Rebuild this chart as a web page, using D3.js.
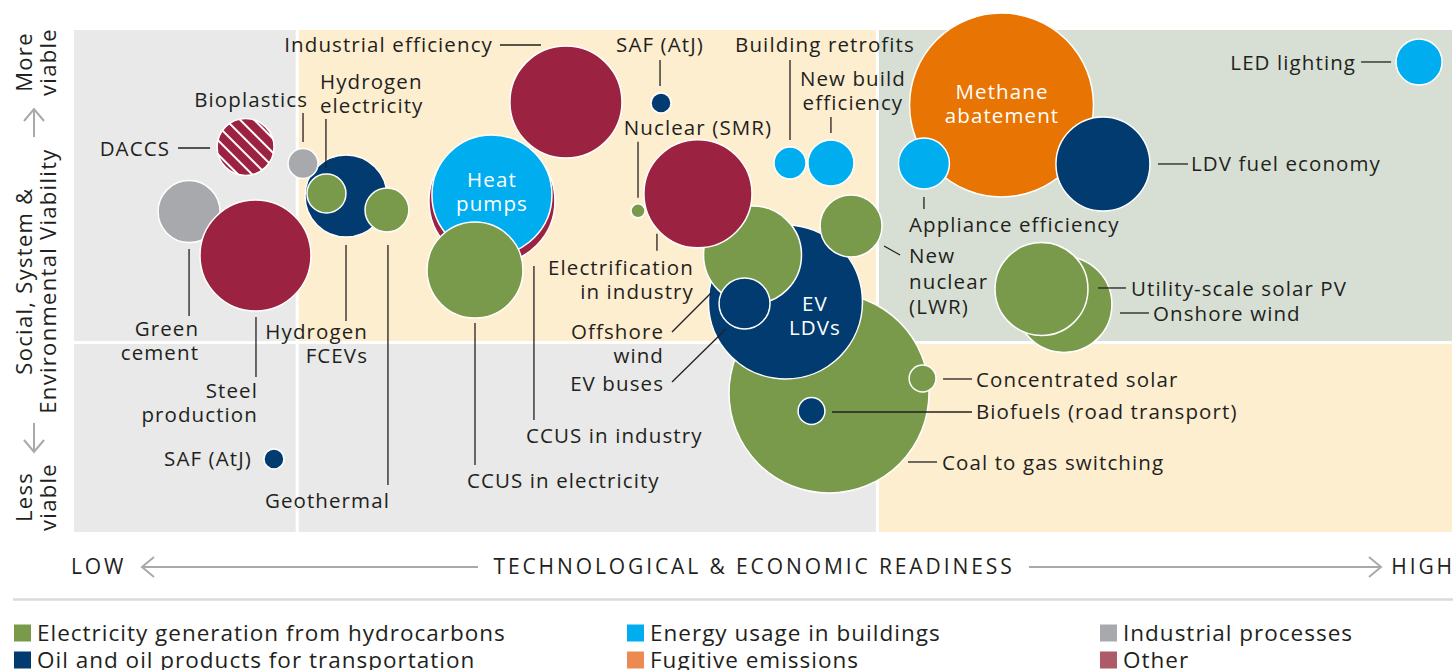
<!DOCTYPE html>
<html>
<head>
<meta charset="utf-8">
<script src="https://cdn.jsdelivr.net/npm/d3@7"></script>
<style>
  body { margin: 0; background: #fff; }
  svg { display: block; }
  text { font-family: "Open Sans", sans-serif; fill: #231f20; }
</style>
</head>
<body>
<svg id="chart" width="1456" height="670"></svg>
<script>
// ---- Options: readiness (x), viability (y), abatement size ----
const ids = [
  "coal", "evldv", "offshore", "newnuclear", "evbuses", "csp", "biofuels",
  "ccusInd", "heat", "ccusElec",
  "cement", "steel", "fcev", "bioplastics", "h2elec", "geo", "daccs", "safLow",
  "indEff", "safTop", "smr", "electrif", "retrofit", "newbuild",
  "methane", "appliance", "ldvfuel", "led", "onshore", "utility"
];
const names = [
  "Coal to gas switching", "EV LDVs", "Offshore wind", "New nuclear (LWR)", "EV buses",
  "Concentrated solar", "Biofuels (road transport)",
  "CCUS in industry", "Heat pumps", "CCUS in electricity",
  "Green cement", "Steel production", "Hydrogen FCEVs", "Bioplastics", "Hydrogen electricity",
  "Geothermal", "DACCS", "SAF (AtJ)",
  "Industrial efficiency", "SAF (AtJ)", "Nuclear (SMR)", "Electrification in industry",
  "Building retrofits", "New build efficiency",
  "Methane abatement", "Appliance efficiency", "LDV fuel economy", "LED lighting",
  "Onshore wind", "Utility-scale solar PV"
];
// 0 electricity, 1 transport, 2 buildings, 3 fugitive, 4 industrial processes, 5 other
const sector = [
  0, 1, 0, 0, 1, 0, 1,
  5, 2, 0,
  4, 5, 1, 4, 0, 0, 5, 1,
  5, 1, 0, 5, 2, 2,
  3, 2, 1, 2, 0, 0
];
const readiness = [
  54.79, 51.63, 49.24, 56.39, 48.66, 61.58, 53.52,
  30.33, 30.33, 29.10,
  8.35, 13.17, 19.74, 16.62, 18.32, 22.71, 12.45, 14.51,
  35.70, 42.60, 40.93, 45.28, 51.96, 54.93,
  67.31, 61.68, 74.67, 97.61, 71.84, 70.21
];
const viability = [
  27.69, 45.82, 55.18, 60.96, 45.52, 30.58, 24.10,
  65.94, 67.13, 52.19,
  63.84, 55.08, 66.93, 73.41, 67.43, 64.14, 76.69, 14.54,
  85.66, 85.46, 63.98, 67.37, 73.51, 73.51,
  85.06, 73.41, 73.31, 93.63, 45.32, 48.41
];
const potential = [
  1000, 593, 240, 96, 65, 18, 18,
  397, 360, 230,
  96, 308, 168, 22.5, 38, 48, 81, 10,
  314, 10, 4.9, 292, 25.6, 53,
  846, 65, 221, 53, 230, 216
];

const sectors = [
  "Electricity generation from hydrocarbons",
  "Oil and oil products for transportation",
  "Energy usage in buildings",
  "Fugitive emissions",
  "Industrial processes",
  "Other"
];
const sectorFill = ["#7a9a4b", "#013b70", "#00aeef", "#e87403", "#a7a9ac", "#9c2242"];
const legendFill = ["#7a9a4b", "#013b70", "#00aeef", "#ec8a52", "#a7a9ac", "#ad5a69"];

// quadrant boundaries in axis units
const readinessBreaks = [0, 16.2, 58.3, 100];
const viabilityBreaks = [0, 37.75, 100];
const panelFill = [
  ["#e8e9e8", "#e8e9e8", "#feeed0"],   // lower band
  ["#e8e9e8", "#feeed0", "#d7dfd4"]    // upper band
];

// ---- layout ----
const svg = d3.select("#chart");
const x = d3.scaleLinear().domain([0, 100]).range([74, 1452]);
const y = d3.scaleLinear().domain([0, 100]).range([532, 30]);
const r = d3.scaleSqrt().domain([0, 1000]).range([0, 100]);

const defs = svg.append("defs");
const hatch = defs.append("pattern")
  .attr("id", "hatch").attr("patternUnits", "userSpaceOnUse")
  .attr("width", 10).attr("height", 10)
  .attr("patternTransform", "rotate(45)");
hatch.append("rect").attr("width", 10).attr("height", 10).attr("fill", sectorFill[5]);
hatch.append("line").attr("x1", 0).attr("x2", 10).attr("y1", 5).attr("y2", 5)
  .attr("stroke", "#fff").attr("stroke-width", 2);

// background panels
const panels = svg.append("g");
for (let j = 0; j < 2; j++) {
  for (let i = 0; i < 3; i++) {
    panels.append("rect")
      .attr("x", x(readinessBreaks[i]))
      .attr("y", y(viabilityBreaks[j + 1]))
      .attr("width", x(readinessBreaks[i + 1]) - x(readinessBreaks[i]))
      .attr("height", y(viabilityBreaks[j]) - y(viabilityBreaks[j + 1]))
      .attr("fill", panelFill[j][i]);
  }
}
panels.selectAll("line.v").data(readinessBreaks.slice(1, -1)).join("line")
  .attr("x1", d => x(d)).attr("x2", d => x(d))
  .attr("y1", y(100)).attr("y2", y(0))
  .attr("stroke", "#fff").attr("stroke-width", 3);
panels.selectAll("line.h").data(viabilityBreaks.slice(1, -1)).join("line")
  .attr("x1", x(0)).attr("x2", x(100))
  .attr("y1", d => y(d)).attr("y2", d => y(d))
  .attr("stroke", "#fff").attr("stroke-width", 3);

// bubbles
const options = ids.map((id, i) => ({
  id, name: names[i], sector: sector[i],
  cx: x(readiness[i]), cy: y(viability[i]), rad: r(potential[i])
}));
const byId = Object.fromEntries(options.map(d => [d.id, d]));

svg.append("g").selectAll("circle").data(options).join("circle")
  .attr("cx", d => d.cx).attr("cy", d => d.cy).attr("r", d => d.rad)
  .attr("fill", d => d.id === "daccs" ? "url(#hatch)" : sectorFill[d.sector])
  .attr("stroke", "#fff").attr("stroke-width", 1.5);

// labels: offsets from bubble centre, leader line offsets
const notes = [
  { id: "daccs", lines: ["DACCS"], anchor: "end", dx: -75.5, dy: 2, leader: [[-67.5, 1], [-35.5, 1]] },
  { id: "bioplastics", lines: ["Bioplastics"], anchor: "end", dx: 5, dy: -63.5, leader: [[0, -50.5], [0, -21.5]] },
  { id: "h2elec", lines: ["Hydrogen", "electricity"], anchor: "start", dx: -6.5, dy: -111.5, leader: [[-0.5, -74.5], [-0.5, -25.5]] },
  { id: "cement", lines: ["Green", "cement"], anchor: "end", dx: 10, dy: 117.5, leader: [[0, 37.5], [0, 104.5]] },
  { id: "steel", lines: ["Steel", "production"], anchor: "end", dx: 2.5, dy: 135.5, leader: [[0.5, 61.5], [0.5, 121.5]] },
  { id: "fcev", lines: ["Hydrogen", "FCEVs"], anchor: "end", dx: 22, dy: 136, leader: [[0, 49], [0, 125]] },
  { id: "geo", lines: ["Geothermal"], anchor: "end", dx: 3, dy: 291, leader: [[1, 35], [1, 275]] },
  { id: "safLow", lines: ["SAF (AtJ)"], anchor: "end", dx: -22, dy: 0 },
  { id: "heat", lines: ["Heat", "pumps"], anchor: "middle", dx: 0, dy: -15, inside: true },
  { id: "ccusInd", lines: ["CCUS in industry"], anchor: "start", dx: 34, dy: 235, leader: [[42, 65], [42, 219]] },
  { id: "ccusElec", lines: ["CCUS in electricity"], anchor: "start", dx: -8, dy: 211, leader: [[0, 53], [0, 195]] },
  { id: "indEff", lines: ["Industrial efficiency"], anchor: "end", dx: -73, dy: -57, leader: [[-66, -57], [-25, -57]] },
  { id: "safTop", lines: ["SAF (AtJ)"], anchor: "middle", dx: -1, dy: -58, leader: [[-1, -43], [-1, -17]] },
  { id: "smr", lines: ["Nuclear (SMR)"], anchor: "middle", dx: 60, dy: -83, leader: [[0, -69], [0, -13]] },
  { id: "electrif", lines: ["Electrification", "in industry"], anchor: "end", dx: -4, dy: 74, leader: [[-41, 40], [-41, 57]] },
  { id: "retrofit", lines: ["Building retrofits"], anchor: "middle", dx: 35, dy: -118, leader: [[0, -103], [0, -23]] },
  { id: "newbuild", lines: ["New build", "efficiency"], anchor: "middle", dx: 22, dy: -84, leader: [[0, -46], [0, -30]] },
  { id: "newnuclear", lines: ["New", "nuclear", "(LWR)"], anchor: "start", dx: 58, dy: 30, lh: 25.5, leader: [[33, 20], [49, 29]] },
  { id: "offshore", lines: ["Offshore", "wind"], anchor: "end", dx: -88.5, dy: 77, leader: [[-80.5, 77], [-41.5, 38]] },
  { id: "evldv", lines: ["EV", "LDVs"], anchor: "middle", dx: 29.5, dy: 2, inside: true },
  { id: "evbuses", lines: ["EV buses"], anchor: "end", dx: -80.5, dy: 80.5, leader: [[-72.5, 78.5], [-18.5, 25.5]] },
  { id: "coal", lines: ["Coal to gas switching"], anchor: "start", dx: 113, dy: 70, leader: [[79, 69], [108, 69]] },
  { id: "csp", lines: ["Concentrated solar"], anchor: "start", dx: 53.5, dy: 1.5, leader: [[20.5, 0.5], [49.5, 0.5]] },
  { id: "biofuels", lines: ["Biofuels (road transport)"], anchor: "start", dx: 164.5, dy: 1, leader: [[20.5, 1], [160.5, 1]] },
  { id: "methane", lines: ["Methane", "abatement"], anchor: "middle", dx: 0.5, dy: -13, inside: true },
  { id: "appliance", lines: ["Appliance efficiency"], anchor: "start", dx: -15, dy: 61.5, leader: [[0, 33.5], [0, 45.5]] },
  { id: "ldvfuel", lines: ["LDV fuel economy"], anchor: "start", dx: 88, dy: 0, leader: [[55, 0], [85, 0]] },
  { id: "led", lines: ["LED lighting"], anchor: "end", dx: -63, dy: 1, leader: [[-58, 0], [-28, 0]] },
  { id: "utility", lines: ["Utility-scale solar PV"], anchor: "start", dx: 89.5, dy: 0, leader: [[56.5, -1], [84.5, -1]] },
  { id: "onshore", lines: ["Onshore wind"], anchor: "start", dx: 89, dy: 9.5, leader: [[56, 8.5], [85, 8.5]] }
];

const noteG = svg.append("g");
notes.forEach(n => {
  const o = byId[n.id];
  if (n.leader) {
    noteG.append("line")
      .attr("x1", o.cx + n.leader[0][0]).attr("y1", o.cy + n.leader[0][1])
      .attr("x2", o.cx + n.leader[1][0]).attr("y2", o.cy + n.leader[1][1])
      .attr("stroke", "#231f20").attr("stroke-width", 1.3);
  }
  const lh = n.lh || 24;
  const t = noteG.append("text")
    .attr("text-anchor", n.anchor)
    .style("font-size", "20.5px")
    .style("letter-spacing", "1.1px")
    .style("fill", n.inside ? "#fff" : "#231f20");
  n.lines.forEach((line, k) => {
    t.append("tspan")
      .attr("x", o.cx + n.dx)
      .attr("y", o.cy + n.dy + k * lh)
      .attr("dy", "0.35em")
      .text(line);
  });
});

// ---- vertical axis caption ----
const yCap = svg.append("g").style("font-size", "22px").style("letter-spacing", "1.3px");
function rotated(cx, cy, lines) {
  const t = yCap.append("text")
    .attr("transform", `translate(${cx},${cy}) rotate(-90)`)
    .attr("text-anchor", "middle");
  lines.forEach((s, k) => {
    t.append("tspan").attr("x", 0).attr("y", (k - (lines.length - 1) / 2) * 24).attr("dy", "0.35em").text(s);
  });
}
rotated(36, 62, ["More", "viable"]);
rotated(36, 281, ["Social, System &", "Environmental Viability"]);
rotated(36, 497, ["Less", "viable"]);

const grey = "#a7a9ac";
function arrow(g, x1, y1, x2, y2) {
  g.append("line").attr("x1", x1).attr("y1", y1).attr("x2", x2).attr("y2", y2)
    .attr("stroke", grey).attr("stroke-width", 2);
  const ang = Math.atan2(y2 - y1, x2 - x1);
  const L = 12, W = 10;
  const p = (a, b) => [x2 - L * Math.cos(ang) + b * Math.cos(ang + Math.PI / 2), y2 - L * Math.sin(ang) + b * Math.sin(ang + Math.PI / 2)];
  const a1 = p(0, W), a2 = p(0, -W);
  g.append("path")
    .attr("d", `M${a1[0]},${a1[1]} L${x2},${y2} L${a2[0]},${a2[1]}`)
    .attr("fill", "none").attr("stroke", grey).attr("stroke-width", 2);
}
const arrows = svg.append("g");
arrow(arrows, 34, 137, 34, 109);
arrow(arrows, 34, 423, 34, 452);

// ---- horizontal axis caption ----
const xCap = svg.append("g").style("font-size", "21px").style("letter-spacing", "2.9px");
xCap.append("text").attr("x", 71).attr("y", 567).attr("dy", "0.35em").text("LOW");
xCap.append("text").attr("x", 754).attr("y", 567).attr("dy", "0.35em").attr("text-anchor", "middle")
  .text("TECHNOLOGICAL & ECONOMIC READINESS");
xCap.append("text").attr("x", 1455).attr("y", 567).attr("dy", "0.35em").attr("text-anchor", "end").text("HIGH");
arrow(arrows, 478, 567, 142, 567);
arrow(arrows, 1029, 567, 1381, 567);

svg.append("line").attr("x1", 13).attr("x2", 1453).attr("y1", 599.5).attr("y2", 599.5)
  .attr("stroke", "#d9dadb").attr("stroke-width", 2.5);

// ---- legend ----
const legendCols = [14, 627, 1100];
const legendRows = [633, 660];
const legend = svg.append("g");
sectors.forEach((s, i) => {
  const col = Math.floor(i / 2), row = i % 2;
  const gx = legendCols[col], gy = legendRows[row];
  legend.append("rect").attr("x", gx).attr("y", gy - 8.5).attr("width", 17).attr("height", 17)
    .attr("fill", legendFill[i]);
  legend.append("text").attr("x", gx + 23).attr("y", gy).attr("dy", "0.35em")
    .style("font-size", "22.5px").style("letter-spacing", "1px").text(s);
});
</script>
</body>
</html>
